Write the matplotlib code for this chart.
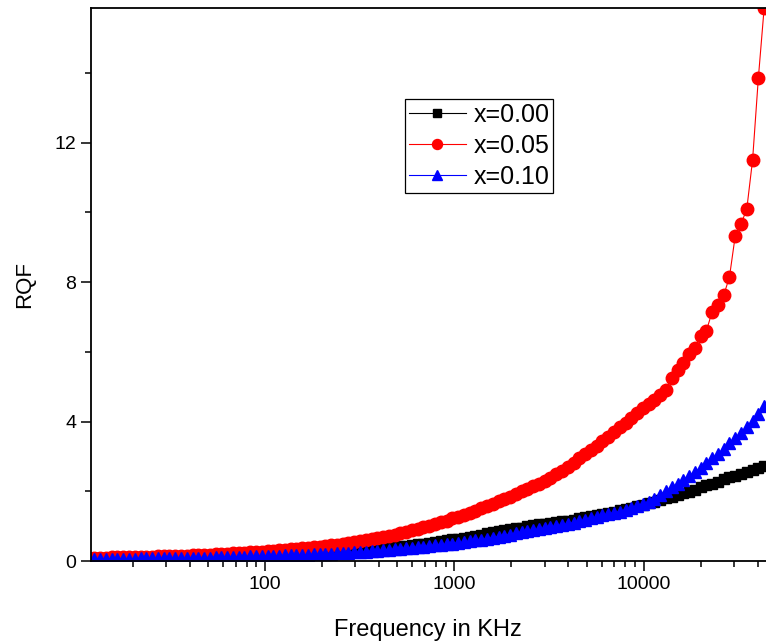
import matplotlib
matplotlib.use("Agg")
import matplotlib.pyplot as plt
from matplotlib.ticker import LogLocator, FixedLocator, FixedFormatter, NullFormatter

plt.rcParams['font.family'] = ['Liberation Sans', 'DejaVu Sans']

# frequency sweep (KHz)
freq = [12.55, 13.46, 14.44, 15.49, 16.62, 17.82, 19.12, 20.51, 22.00, 23.60,
        25.32, 27.16, 29.14, 31.26, 33.54, 35.98, 38.59, 41.40, 44.41, 47.64,
        51.11, 54.83, 58.82, 63.10, 67.69, 72.61, 77.89, 83.56, 89.64, 96.16,
        103.2, 110.7, 118.7, 127.4, 136.6, 146.6, 157.2, 168.7, 180.9, 194.1,
        208.2, 223.4, 239.6, 257.0, 275.8, 295.8, 317.3, 340.4, 365.2, 391.7,
        420.3, 450.8, 483.6, 518.8, 556.6, 597.0, 640.5, 687.1, 737.1, 790.7,
        848.2, 909.9, 976.1, 1047, 1123, 1205, 1293, 1387, 1488, 1596,
        1712, 1837, 1970, 2113, 2267, 2432, 2609, 2799, 3003, 3221,
        3455, 3707, 3977, 4266, 4576, 4909, 5266, 5649, 6060, 6501,
        6974, 7482, 8026, 8610, 9236, 9908, 10629, 11402, 12232, 13122,
        14077, 15101, 16199, 17378, 18642, 19999, 21454, 23014, 24689, 26485,
        28412, 30479, 32696, 35075, 37627, 40365, 43301]

rqf_000 = [0.08, 0.08, 0.08, 0.08, 0.08, 0.09, 0.09, 0.09, 0.09, 0.09,
           0.09, 0.09, 0.10, 0.10, 0.10, 0.10, 0.11, 0.11, 0.11, 0.11,
           0.12, 0.12, 0.13, 0.13, 0.14, 0.14, 0.15, 0.15, 0.15, 0.16,
           0.16, 0.17, 0.18, 0.18, 0.19, 0.20, 0.20, 0.21, 0.22, 0.23,
           0.24, 0.25, 0.27, 0.28, 0.29, 0.30, 0.32, 0.33, 0.34, 0.36,
           0.37, 0.39, 0.40, 0.42, 0.44, 0.46, 0.48, 0.50, 0.52, 0.54,
           0.56, 0.59, 0.62, 0.64, 0.67, 0.70, 0.73, 0.76, 0.79, 0.82,
           0.85, 0.88, 0.91, 0.94, 0.96, 0.99, 1.02, 1.05, 1.07, 1.10,
           1.12, 1.14, 1.16, 1.19, 1.22, 1.25, 1.28, 1.31, 1.35, 1.38,
           1.42, 1.46, 1.50, 1.53, 1.57, 1.61, 1.65, 1.70, 1.75, 1.80,
           1.85, 1.89, 1.94, 1.99, 2.05, 2.11, 2.17, 2.22, 2.28, 2.34,
           2.40, 2.45, 2.50, 2.55, 2.60, 2.66, 2.72]

rqf_005 = [0.10, 0.10, 0.10, 0.11, 0.11, 0.11, 0.11, 0.12, 0.12, 0.12,
           0.12, 0.13, 0.13, 0.14, 0.14, 0.15, 0.15, 0.16, 0.17, 0.17,
           0.18, 0.19, 0.20, 0.21, 0.22, 0.23, 0.24, 0.25, 0.26, 0.27,
           0.28, 0.30, 0.31, 0.32, 0.34, 0.35, 0.37, 0.38, 0.40, 0.41,
           0.43, 0.45, 0.47, 0.50, 0.52, 0.55, 0.57, 0.60, 0.63, 0.66,
           0.69, 0.73, 0.76, 0.80, 0.84, 0.88, 0.92, 0.97, 1.01, 1.06,
           1.11, 1.16, 1.22, 1.27, 1.33, 1.38, 1.44, 1.51, 1.57, 1.64,
           1.71, 1.78, 1.85, 1.92, 2.00, 2.07, 2.14, 2.21, 2.30, 2.39,
           2.49, 2.59, 2.70, 2.82, 2.94, 3.06, 3.18, 3.31, 3.44, 3.57,
           3.70, 3.83, 3.96, 4.10, 4.24, 4.38, 4.50, 4.62, 4.75, 4.90,
           5.25, 5.48, 5.68, 5.93, 6.12, 6.45, 6.60, 7.15, 7.33, 7.62,
           8.15, 9.33, 9.66, 10.10, 11.50, 13.85, 15.85]

rqf_010 = [0.07, 0.07, 0.07, 0.07, 0.07, 0.07, 0.07, 0.07, 0.08, 0.08,
           0.08, 0.08, 0.08, 0.08, 0.09, 0.09, 0.09, 0.09, 0.10, 0.10,
           0.10, 0.11, 0.11, 0.11, 0.12, 0.12, 0.12, 0.13, 0.13, 0.14,
           0.14, 0.15, 0.15, 0.16, 0.16, 0.17, 0.17, 0.18, 0.19, 0.19,
           0.20, 0.21, 0.22, 0.23, 0.24, 0.25, 0.26, 0.27, 0.28, 0.29,
           0.31, 0.32, 0.34, 0.35, 0.37, 0.38, 0.40, 0.41, 0.43, 0.45,
           0.46, 0.48, 0.50, 0.52, 0.54, 0.56, 0.59, 0.61, 0.64, 0.67,
           0.70, 0.73, 0.76, 0.79, 0.82, 0.85, 0.88, 0.91, 0.94, 0.97,
           1.00, 1.03, 1.07, 1.10, 1.14, 1.18, 1.22, 1.26, 1.31, 1.35,
           1.39, 1.42, 1.47, 1.52, 1.57, 1.63, 1.70, 1.78, 1.88, 2.00,
           2.12, 2.22, 2.33, 2.44, 2.55, 2.68, 2.80, 2.94, 3.07, 3.22,
           3.38, 3.52, 3.68, 3.84, 4.02, 4.22, 4.45]

labels = ["x=0.00", "x=0.05", "x=0.10"]

fig = plt.figure(figsize=(7.66, 6.43), dpi=100)
ax = fig.add_axes([0.1184, 0.1275, 0.8816, 0.8601])

ax.plot(freq, rqf_000, color='black', marker='s', ms=7, lw=0.8, label=labels[0])
ax.plot(freq, rqf_005, color='red', marker='o', ms=9, lw=0.8, label=labels[1])
ax.plot(freq, rqf_010, color='blue', marker='^', ms=9, lw=0.8, label=labels[2])

ax.set_xscale('log')
ax.set_xlim(12.0, 44300)
ax.set_ylim(0, 15.86)

ax.xaxis.set_major_locator(FixedLocator([100, 1000, 10000]))
ax.xaxis.set_major_formatter(FixedFormatter(["100", "1000", "10000"]))
ax.xaxis.set_minor_locator(LogLocator(base=10, subs=range(2, 10)))
ax.xaxis.set_minor_formatter(NullFormatter())
ax.yaxis.set_major_locator(FixedLocator([0, 4, 8, 12]))
ax.yaxis.set_minor_locator(FixedLocator([2, 6, 10, 14]))

ax.tick_params(which='major', direction='out', length=7, width=1.1, labelsize=14)
ax.tick_params(which='minor', direction='out', length=4, width=1.1)

ax.spines['right'].set_visible(False)
for s in ['left', 'bottom', 'top']:
    ax.spines[s].set_linewidth(1.3)

ax.set_xlabel("Frequency in KHz", fontsize=17, labelpad=19)
ax.set_ylabel("RQF", fontsize=16, labelpad=14)

leg = ax.legend(loc='upper left', bbox_to_anchor=(0.4654, 0.8354), fontsize=18,
                frameon=True, fancybox=False, edgecolor='black', framealpha=1,
                handlelength=2.3, labelspacing=0.28, borderpad=0.15,
                handletextpad=0.3, borderaxespad=0, markerscale=0.8)
leg.get_frame().set_linewidth(0.9)

fig.savefig("out.png", dpi=100)
